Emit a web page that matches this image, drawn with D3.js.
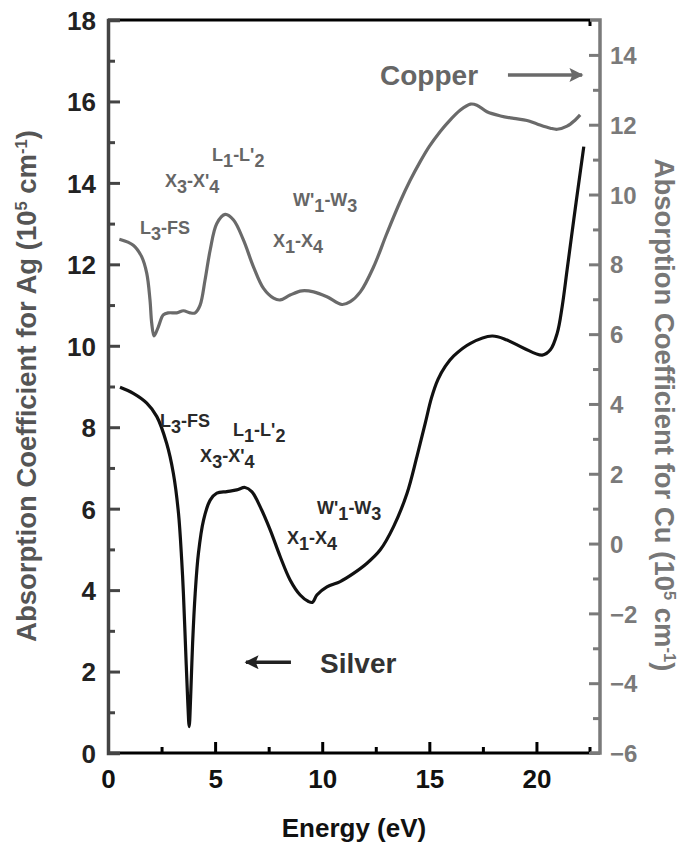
<!DOCTYPE html>
<html>
<head>
<meta charset="utf-8">
<script src="https://cdn.jsdelivr.net/npm/d3@7/dist/d3.min.js"></script>
<style>
  html, body { margin: 0; padding: 0; background: #fff; }
  svg { display: block; font-family: "Liberation Sans", Arial, sans-serif; }
</style>
</head>
<body>
<svg id="chart" width="687" height="846"></svg>
<script>
// ---------- DATA ----------
const agEnergy = [0.56,1.18,1.81,2.28,2.74,3.05,3.29,3.44,3.52,3.62,3.72,3.79,3.86,3.95,4.07,4.22,4.46,4.77,5.08,5.55,6.01,6.4,6.71,7.1,7.57,8.04,8.5,8.97,9.36,9.55,9.75,10.22,10.84,11.46,12.09,12.71,13.33,13.96,14.42,14.81,15.1,15.4,15.75,16.14,16.92,17.93,18.63,19.41,20.27,20.65,20.97,21.2,21.43,21.74,22.06,22.21];
const agAbs    = [8.98,8.83,8.59,8.26,7.6,6.87,5.89,4.74,3.92,2.6,1.3,0.65,1.4,2.7,3.92,4.9,5.72,6.21,6.38,6.42,6.46,6.52,6.42,6.05,5.48,4.82,4.25,3.88,3.72,3.7,3.88,4.08,4.21,4.41,4.66,4.99,5.56,6.38,7.28,8.1,8.72,9.17,9.5,9.75,10.06,10.24,10.14,9.94,9.77,9.9,10.31,10.96,11.86,13.09,14.32,14.89];

const cuEnergy = [0.53,1.18,1.57,1.81,1.96,2.04,2.15,2.35,2.58,2.82,3.21,3.52,3.83,4.07,4.3,4.53,4.77,5.08,5.47,5.86,6.32,6.79,7.26,7.73,8.04,8.5,9.05,9.6,10.22,10.92,11.31,11.78,12.4,13.02,13.64,14.1,14.58,15.0,15.5,15.83,16.45,16.92,17.22,17.69,18.32,18.94,19.56,20.03,20.65,20.97,21.43,21.8,22.04];
const cuAbs    = [8.72,8.55,8.22,7.74,6.98,6.32,5.95,6.21,6.55,6.61,6.61,6.67,6.61,6.61,6.83,7.55,8.41,9.17,9.43,9.27,8.7,7.93,7.31,7.03,6.98,7.12,7.24,7.21,7.07,6.85,6.93,7.21,7.93,8.89,9.8,10.4,10.95,11.38,11.8,12.04,12.42,12.59,12.56,12.37,12.25,12.18,12.12,12.02,11.9,11.87,11.96,12.13,12.28];

const xTicks      = [0, 5, 10, 15, 20];
const xMinorTicks = [2.5, 7.5, 12.5, 17.5];
const agTicks     = [0, 2, 4, 6, 8, 10, 12, 14, 16, 18];
const agMinor     = [1, 3, 5, 7, 9, 11, 13, 15, 17];
const cuTicks     = [-6, -4, -2, 0, 2, 4, 6, 8, 10, 12, 14];
const cuMinor     = [-5, -3, -1, 1, 3, 5, 7, 9, 11, 13];

// transition labels: [main1, sub1, main2, sub2, energy, left-axis value]
const cuLabels = [
  ["L","3","-FS","",1.49,12.75],
  ["X","3","-X'","4",2.66,13.9],
  ["L","1","-L'","2",4.86,14.54],
  ["W'","1","-W","3",8.64,13.43],
  ["X","1","-X","4",7.70,12.43]
];
const agLabels = [
  ["L","3","-FS","",2.43,8.01],
  ["L","1","-L'","2",5.84,7.78],
  ["X","3","-X'","4",4.30,7.15],
  ["W'","1","-W","3",9.76,5.87],
  ["X","1","-X","4",8.36,5.13]
];

// ---------- LAYOUT ----------
const svg = d3.select("#chart");
const L = 108, R = 590, T = 20, B = 753, RA = 600;
const x  = d3.scaleLinear().domain([0, 22.5]).range([L, R]);
const yAg = d3.scaleLinear().domain([0, 18]).range([B, T]);
const yCu = d3.scaleLinear().domain([-6, 15]).range([B, T]);

const cuColor = "#6a6a6a", agColor = "#111", leftAxisColor = "#444", rightAxisColor = "#7a7a7a";

// curves
const curve = d3.curveCatmullRom.alpha(0.5);
const cuData = cuEnergy.map((e,i)=>[e, cuAbs[i]]);
const agData = agEnergy.map((e,i)=>[e, agAbs[i]]);
svg.append("path").datum(cuData)
  .attr("d", d3.line().x(d=>x(d[0])).y(d=>yCu(d[1])).curve(curve))
  .attr("fill","none").attr("stroke",cuColor).attr("stroke-width",3.2).attr("stroke-linejoin","round");
svg.append("path").datum(agData)
  .attr("d", d3.line().x(d=>x(d[0])).y(d=>yAg(d[1])).curve(curve))
  .attr("fill","none").attr("stroke",agColor).attr("stroke-width",3.2).attr("stroke-linejoin","round");

// frame top / bottom (black)
svg.append("line").attr("x1",L).attr("x2",R).attr("y1",T).attr("y2",T).attr("stroke","#000").attr("stroke-width",3);
svg.append("line").attr("x1",L).attr("x2",R).attr("y1",B).attr("y2",B).attr("stroke","#000").attr("stroke-width",3);
svg.append("line").attr("x1",R).attr("x2",R).attr("y1",T).attr("y2",T+6).attr("stroke","#000").attr("stroke-width",3);
svg.append("line").attr("x1",R).attr("x2",R).attr("y1",B).attr("y2",B-6).attr("stroke","#000").attr("stroke-width",3);

// bottom axis
const gx = svg.append("g").attr("transform",`translate(0,${B})`)
  .call(d3.axisBottom(x).tickValues(xTicks).tickSize(-11).tickPadding(0).tickFormat(d3.format("d")));
gx.select(".domain").remove();
gx.selectAll(".tick line").attr("stroke","#000").attr("stroke-width",3);
gx.selectAll(".tick text").attr("y",35).attr("dy",0).attr("font-size",26).attr("font-weight","bold").attr("fill","#111")
  .attr("font-family","Liberation Sans, Arial, sans-serif");
const gxm = svg.append("g").attr("transform",`translate(0,${B})`)
  .call(d3.axisBottom(x).tickValues(xMinorTicks).tickSize(-6).tickFormat(""));
gxm.select(".domain").remove();
gxm.selectAll(".tick line").attr("stroke","#000").attr("stroke-width",3);

// left axis
const gl = svg.append("g").attr("transform",`translate(${L},0)`)
  .call(d3.axisLeft(yAg).tickValues(agTicks).tickSize(-12).tickPadding(0).tickFormat(d3.format("d")));
gl.select(".domain").attr("stroke",leftAxisColor).attr("stroke-width",3.5);
gl.selectAll(".tick line").attr("stroke",leftAxisColor).attr("stroke-width",3);
gl.selectAll(".tick text").attr("x",-12).attr("dy","0.36em").attr("font-size",26).attr("font-weight","bold").attr("fill","#222")
  .attr("font-family","Liberation Sans, Arial, sans-serif");
const glm = svg.append("g").attr("transform",`translate(${L},0)`)
  .call(d3.axisLeft(yAg).tickValues(agMinor).tickSize(-7).tickFormat(""));
glm.select(".domain").remove();
glm.selectAll(".tick line").attr("stroke",leftAxisColor).attr("stroke-width",3);

// right axis (gray, offset)
svg.append("path").attr("d",`M${R},${T}H${RA}V${B}H${R}`).attr("fill","none").attr("stroke",rightAxisColor).attr("stroke-width",3.5);
const gr = svg.append("g").attr("transform",`translate(${RA},0)`)
  .call(d3.axisRight(yCu).tickValues(cuTicks).tickSize(-11).tickPadding(0).tickFormat(d3.format("d")));
gr.select(".domain").remove();
gr.selectAll(".tick line").attr("stroke",rightAxisColor).attr("stroke-width",3);
gr.selectAll(".tick text").attr("x",10).attr("dy","0.36em").attr("font-size",24).attr("font-weight","bold").attr("fill",rightAxisColor)
  .attr("font-family","Liberation Sans, Arial, sans-serif");
const grm = svg.append("g").attr("transform",`translate(${RA},0)`)
  .call(d3.axisRight(yCu).tickValues(cuMinor).tickSize(-7).tickFormat(""));
grm.select(".domain").remove();
grm.selectAll(".tick line").attr("stroke",rightAxisColor).attr("stroke-width",3);

// axis titles
function titleWithUnits(g, text) {
  g.append("tspan").text(text + " (10");
  g.append("tspan").text("5").attr("font-size","0.6em").attr("dy","-0.55em");
  g.append("tspan").text(" cm").attr("dy","0.33em");
  g.append("tspan").text("-1").attr("font-size","0.6em").attr("dy","-0.55em");
  g.append("tspan").text(")").attr("dy","0.33em");
}
const tl = svg.append("text").attr("transform",`translate(36,386) rotate(-90)`)
  .attr("text-anchor","middle").attr("font-size",27.5).attr("font-weight","bold").attr("fill","#555");
titleWithUnits(tl, "Absorption Coefficient for Ag");
const tr = svg.append("text").attr("transform",`translate(655,415) rotate(90)`)
  .attr("text-anchor","middle").attr("font-size",27.5).attr("font-weight","bold").attr("fill","#777");
titleWithUnits(tr, "Absorption Coefficient for Cu");

svg.append("text").attr("x",354).attr("y",837).attr("text-anchor","middle")
  .attr("font-size",26).attr("font-weight","bold").attr("fill","#111").text("Energy (eV)");

// transition labels
function drawLabels(list, color) {
  list.forEach(d => {
    const t = svg.append("text").attr("x",x(d[4])).attr("y",yAg(d[5]))
      .attr("font-size",18).attr("font-weight","bold").attr("fill",color);
    t.append("tspan").text(d[0]);
    t.append("tspan").text(d[1]).attr("dy","0.35em");
    t.append("tspan").text(d[2]).attr("dy","-0.35em");
    if (d[3]) t.append("tspan").text(d[3]).attr("dy","0.35em");
  });
}
drawLabels(cuLabels, "#666");
drawLabels(agLabels, "#2a2a2a");

// arrows + material labels
const defs = svg.append("defs");
function marker(id, color) {
  defs.append("marker").attr("id",id).attr("viewBox","0 0 10 10").attr("refX",9).attr("refY",5)
    .attr("markerWidth",5).attr("markerHeight",4).attr("orient","auto").attr("markerUnits","strokeWidth")
    .append("path").attr("d","M0,0 L10,5 L0,10 L2,5 Z").attr("fill",color);
}
marker("arCu", cuColor); marker("arAg", "#222");
svg.append("text").attr("x",x(12.70)).attr("y",yAg(16.41)).attr("font-size",28).attr("font-weight","bold").attr("fill","#666").text("Copper");
svg.append("line").attr("x1",x(18.67)).attr("x2",x(22.13)).attr("y1",yAg(16.65)).attr("y2",yAg(16.65))
  .attr("stroke",cuColor).attr("stroke-width",3.5).attr("marker-end","url(#arCu)");
svg.append("text").attr("x",x(9.90)).attr("y",yAg(1.96)).attr("font-size",28).attr("font-weight","bold").attr("fill","#333").text("Silver");
svg.append("line").attr("x1",x(8.54)).attr("x2",x(6.44)).attr("y1",yAg(2.23)).attr("y2",yAg(2.23))
  .attr("stroke","#222").attr("stroke-width",3.5).attr("marker-end","url(#arAg)");
</script>
</body>
</html>
